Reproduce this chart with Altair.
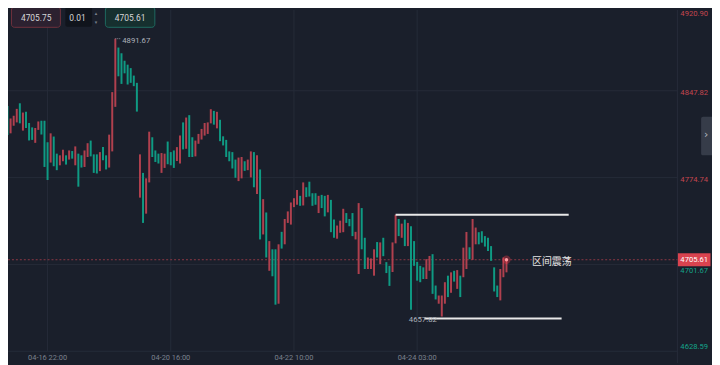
import altair as alt
import pandas as pd

# ---------------- data ----------------
highs = [4837.0, 4835.1, 4824.5, 4826.8, 4832.6, 4837.3, 4829.5, 4830.1, 4820.7, 4817.0,
         4816.5, 4822.0, 4822.6, 4822.6, 4804.5, 4812.0, 4809.3, 4794.9, 4793.5, 4798.2,
         4793.5, 4797.6, 4797.1, 4801.0, 4794.9, 4793.5, 4797.6, 4803.7, 4805.9, 4794.3,
         4794.3, 4796.2, 4800.4, 4793.5, 4810.9, 4846.7, 4891.67, 4884.2, 4879.4, 4873.1,
         4869.8, 4866.9, 4860.6, 4854.5, 4794.3, 4778.7, 4774.1, 4813.4, 4808.7, 4797.6,
         4794.9, 4795.4, 4794.9, 4805.1, 4796.2, 4797.6, 4800.4, 4810.1, 4821.2, 4825.3,
         4827.3, 4808.7, 4805.9, 4811.5, 4815.7, 4820.7, 4821.2, 4832.3, 4830.9, 4830.1,
         4823.4, 4809.5, 4806.5, 4796.8, 4796.2, 4789.9, 4791.6, 4792.1, 4788.5, 4789.9,
         4796.8, 4796.2, 4793.5, 4781.6, 4756.6, 4745.4, 4721.3, 4714.4, 4714.4, 4718.6,
         4729.1, 4739.9, 4746.3, 4753.8, 4757.4, 4764.3, 4759.4, 4770.7, 4766.6, 4771.3,
         4761.6, 4761.6, 4759.4, 4760.2, 4759.4, 4760.2, 4756.0, 4739.4, 4734.4, 4738.5,
         4748.5, 4744.9, 4739.9, 4744.9, 4729.1, 4753.3, 4749.1, 4724.1, 4707.5, 4706.7,
         4714.4, 4720.5, 4720.2, 4724.1, 4703.6, 4700.5, 4720.2, 4743.5, 4739.9, 4736.0,
         4739.4, 4736.6, 4733.8, 4721.3, 4703.8, 4700.5, 4699.2, 4706.1, 4708.8, 4710.3,
         4683.9, 4675.5, 4675.5, 4686.7, 4692.2, 4695.0, 4696.3, 4696.9, 4692.2, 4715.8,
         4729.0, 4716.1, 4739.9, 4732.7, 4728.8, 4729.6, 4725.5, 4724.1, 4717.1, 4699.2,
         4683.9, 4697.8, 4707.5, 4706.1]

lows = [4820.4, 4810.7, 4812.0, 4818.4, 4821.2, 4820.4, 4814.3, 4816.5, 4806.0, 4806.5,
        4804.0, 4814.9, 4811.0, 4783.7, 4772.7, 4787.4, 4784.3, 4781.0, 4785.1, 4788.5,
        4785.7, 4789.9, 4790.7, 4785.1, 4767.1, 4783.2, 4783.7, 4792.1, 4792.6, 4778.7,
        4778.2, 4780.2, 4789.3, 4781.6, 4783.2, 4796.8, 4834.3, 4860.0, 4853.6, 4862.5,
        4853.1, 4854.5, 4851.7, 4830.3, 4757.9, 4736.6, 4744.4, 4770.7, 4792.1, 4787.9,
        4786.6, 4778.7, 4782.9, 4786.0, 4785.1, 4782.9, 4788.7, 4786.6, 4798.5, 4799.0,
        4792.1, 4792.1, 4792.6, 4803.2, 4806.8, 4810.1, 4811.5, 4820.4, 4819.3, 4816.2,
        4805.4, 4801.8, 4792.1, 4788.5, 4782.4, 4774.6, 4771.8, 4774.1, 4780.4, 4781.0,
        4774.9, 4766.6, 4761.0, 4722.7, 4726.9, 4707.5, 4696.3, 4691.7, 4667.8, 4668.6,
        4715.0, 4718.6, 4736.6, 4735.2, 4749.9, 4751.9, 4751.0, 4751.3, 4758.3, 4758.8,
        4751.0, 4751.9, 4744.9, 4749.1, 4742.1, 4745.5, 4728.8, 4724.1, 4723.3, 4728.3,
        4728.8, 4736.6, 4733.8, 4725.5, 4722.7, 4693.6, 4714.4, 4697.8, 4697.8, 4697.8,
        4692.2, 4707.5, 4701.9, 4708.6, 4694.4, 4683.6, 4695.3, 4719.4, 4725.5, 4724.1,
        4717.1, 4717.1, 4663.6, 4700.5, 4688.0, 4686.7, 4689.4, 4689.4, 4696.3, 4676.9,
        4672.2, 4668.6, 4657.82, 4668.6, 4674.2, 4677.8, 4687.2, 4681.1, 4674.2, 4690.9,
        4697.8, 4706.1, 4705.5, 4718.6, 4718.6, 4720.0, 4716.7, 4713.0, 4704.7, 4678.9,
        4674.2, 4671.4, 4690.9, 4695.0]

# R = rising (red), G = falling (green)
dirs = list("RGRRRGRGGG" "RRGGGRGGRR" "GRGRGGRRGG" "GRGGRRRGGG" "GGGGRGRRGG"
            "GRRGGGRRGR" "GGRRRRRRGR" "GGGGGGRRGR" "RGRGRGRGGR" "GRRRRRGRGG"
            "GGRGGRGGRR" "RGGGRRGGRR" "RGRGGGRRGR" "GRGGGGGRRG" "GRRRGRGRGR"
            "RGRRGGGGGG" "GRRR")

price_ticks = [4920.90, 4847.82, 4774.74, 4701.67, 4628.59]
time_ticks = ["04-16 22:00", "04-20 16:00", "04-22 10:00", "04-24 03:00"]
time_tick_idx = [14, 54, 94, 134]

last_price = 4705.61
bid_text = "4705.75"
ask_text = "4705.61"
step_text = "0.01"
hi_idx, hi_val = 36, 4891.67
lo_idx, lo_val = 142, 4657.82
range_levels = [4743.5, 4656.2]
range_start = [127.0, 136.4]
range_end = [183.2, 180.9]
note_text = "区间震荡"
note_idx, note_price = 171.3, 4704.0

# ---------------- style ----------------
BG = "#1a1f2b"
GRID = "#252c39"
RED = "#b0404e"
GREEN = "#0f9a83"
LRED = "#c4464f"
LGREEN = "#14a38a"
FONT = "Roboto"

W, H = 712, 357
PR = 677  # inner x of the price-axis line

xs = alt.Scale(domain=[1.156, 229.73], nice=False, zero=False)
ys = alt.Scale(domain=[4618.71, 4915.80], nice=False, zero=False)
one = pd.DataFrame({"a": [0]})

cdf = pd.DataFrame({
    "i": list(range(len(highs))),
    "high": highs,
    "low": lows,
    "col": [RED if d == "R" else GREEN for d in dirs],
})

layers = []

# grid
gdf = pd.DataFrame({"p": price_ticks[1:]})
layers.append(alt.Chart(gdf).mark_rule(color=GRID, strokeWidth=1).encode(
    y=alt.Y("p:Q", scale=ys, axis=None), x=alt.value(0), x2=alt.value(PR)))
tdf = pd.DataFrame({"i": time_tick_idx, "t": time_ticks})
layers.append(alt.Chart(tdf).mark_rule(color=GRID, strokeWidth=1).encode(
    x=alt.X("i:Q", scale=xs, axis=None), y=alt.value(0), y2=alt.value(345)))
layers.append(alt.Chart(one).mark_rule(color=GRID, strokeWidth=1).encode(
    x=alt.value(PR), y=alt.value(0), y2=alt.value(H)))

# time labels
layers.append(alt.Chart(tdf).mark_text(fontSize=7.5, color="#7b818d", font=FONT, baseline="middle").encode(
    x=alt.X("i:Q", scale=xs, axis=None), y=alt.value(352), text="t:N"))

# current price dashed line
cur = pd.DataFrame({"i": [len(highs) - 1], "p": [last_price], "txt": [f"{last_price:.2f}"]})
layers.append(alt.Chart(cur).mark_rule(color="#8c3845", strokeDash=[2, 2], strokeWidth=1).encode(
    y=alt.Y("p:Q", scale=ys, axis=None), x=alt.value(0), x2=alt.value(PR)))

# candles
layers.append(alt.Chart(cdf).mark_rule(strokeWidth=2).encode(
    x=alt.X("i:Q", scale=xs, axis=None),
    y=alt.Y("low:Q", scale=ys, axis=None),
    y2="high:Q",
    color=alt.Color("col:N", scale=None)))

# glow on last price
layers.append(alt.Chart(cur).mark_circle(size=70, color="#ff3b4e", opacity=0.35).encode(
    x=alt.X("i:Q", scale=xs, axis=None), y=alt.Y("p:Q", scale=ys, axis=None)))
layers.append(alt.Chart(cur).mark_circle(size=12, color="#ff9aa0", opacity=1).encode(
    x=alt.X("i:Q", scale=xs, axis=None), y=alt.Y("p:Q", scale=ys, axis=None)))

# range lines
rdf = pd.DataFrame({"p": range_levels, "s": range_start, "e": range_end})
layers.append(alt.Chart(rdf).mark_rule(color="#e8e8e8", strokeWidth=2).encode(
    x=alt.X("s:Q", scale=xs, axis=None), x2="e:Q", y=alt.Y("p:Q", scale=ys, axis=None)))

# high / low annotations
hdf = pd.DataFrame({"i": [hi_idx], "i2": [hi_idx + 1.7], "p": [hi_val], "txt": [f"{hi_val:.2f}"]})
layers.append(alt.Chart(hdf).mark_rule(color="#8a909b", strokeDash=[1, 1]).encode(
    x=alt.X("i:Q", scale=xs, axis=None), x2="i2:Q", y=alt.Y("p:Q", scale=ys, axis=None)))
layers.append(alt.Chart(hdf).mark_text(align="left", baseline="middle", dx=7, dy=2.5, fontSize=7.8,
                                       color="#aeb3bc", font=FONT).encode(
    x=alt.X("i:Q", scale=xs, axis=None), y=alt.Y("p:Q", scale=ys, axis=None), text="txt:N"))
ldf = pd.DataFrame({"i": [lo_idx], "p": [lo_val], "txt": [f"{lo_val:.2f}"]})
layers.append(alt.Chart(ldf).mark_text(align="right", baseline="middle", dx=-5, dy=3.5, fontSize=7.8,
                                       color="#aeb3bc", font=FONT).encode(
    x=alt.X("i:Q", scale=xs, axis=None), y=alt.Y("p:Q", scale=ys, axis=None), text="txt:N"))

# note text
ndf = pd.DataFrame({"i": [note_idx], "p": [note_price], "txt": [note_text]})
layers.append(alt.Chart(ndf).mark_text(align="left", baseline="middle", fontSize=10, color="#e4e4e4",
                                       font="Noto Sans CJK SC").encode(
    x=alt.X("i:Q", scale=xs, axis=None), y=alt.Y("p:Q", scale=ys, axis=None), text="txt:N"))

# price-axis labels
label_dy = [10, 2.5, 2.5, 6.5, -4]
for p, dy in zip(price_ticks, label_dy):
    col = LRED if p > last_price else LGREEN
    pdf_ = pd.DataFrame({"p": [p], "txt": [f"{p:.2f}"]})
    layers.append(alt.Chart(pdf_).mark_text(align="left", baseline="middle", dy=dy, fontSize=7.7,
                                            color=col, font=FONT).encode(
        x=alt.value(680), y=alt.Y("p:Q", scale=ys, axis=None), text="txt:N"))

# current price tag
BOX = "M-1,-0.4L1,-0.4L1,0.4L-1,0.4Z"
layers.append(alt.Chart(cur).mark_point(shape=BOX, size=33 * 33, filled=True, opacity=1,
                                        strokeWidth=0, color="#d9434f").encode(
    x=alt.value(694), y=alt.Y("p:Q", scale=ys, axis=None)))
layers.append(alt.Chart(cur).mark_text(align="center", baseline="middle", fontSize=7.7, color="#ffffff",
                                       font=FONT).encode(
    x=alt.value(694), y=alt.Y("p:Q", scale=ys, axis=None), text="txt:N"))

# right side tab
layers.append(alt.Chart(one).mark_rect(color="#363c49", cornerRadius=2).encode(
    x=alt.value(701), x2=alt.value(714), y=alt.value(108), y2=alt.value(147)))
layers.append(alt.Chart(one).mark_text(text="›", fontSize=11, color="#b4b9c2", font="DejaVu Sans",
                                       baseline="middle").encode(x=alt.value(706), y=alt.value(126)))

# top-left widgets
layers.append(alt.Chart(one).mark_rect(color="#2c2130", stroke="#70323d", strokeWidth=1, cornerRadius=3).encode(
    x=alt.value(3.5), x2=alt.value(53), y=alt.value(-3), y2=alt.value(17.5)))
layers.append(alt.Chart(one).mark_text(text=bid_text, fontSize=8.5, color="#d6d6d8", font=FONT,
                                       baseline="middle").encode(x=alt.value(28.5), y=alt.value(8)))
layers.append(alt.Chart(one).mark_rect(color="#10141c", cornerRadius=2).encode(
    x=alt.value(58), x2=alt.value(85), y=alt.value(-3), y2=alt.value(17)))
layers.append(alt.Chart(one).mark_text(text=step_text, fontSize=8.5, color="#d6d6d8", font=FONT,
                                       align="left", baseline="middle").encode(x=alt.value(62), y=alt.value(8)))
layers.append(alt.Chart(one).mark_text(text="▴", fontSize=5, color="#7b818d", font="DejaVu Sans",
                                       baseline="middle").encode(x=alt.value(89), y=alt.value(3)))
layers.append(alt.Chart(one).mark_text(text="▾", fontSize=5, color="#7b818d", font="DejaVu Sans",
                                       baseline="middle").encode(x=alt.value(89), y=alt.value(12)))
layers.append(alt.Chart(one).mark_rect(color="#16302f", stroke="#1e6a60", strokeWidth=1, cornerRadius=3).encode(
    x=alt.value(98.5), x2=alt.value(148.5), y=alt.value(-3), y2=alt.value(17.5)))
layers.append(alt.Chart(one).mark_text(text=ask_text, fontSize=8.5, color="#d6d6d8", font=FONT,
                                       baseline="middle").encode(x=alt.value(123.5), y=alt.value(8)))

chart = alt.layer(*layers).properties(
    width=W, height=H, background=BG, padding=0, autosize="none"
).configure_view(stroke=None)

chart.save("out.html", embed_options={"renderer": "svg", "actions": False})
